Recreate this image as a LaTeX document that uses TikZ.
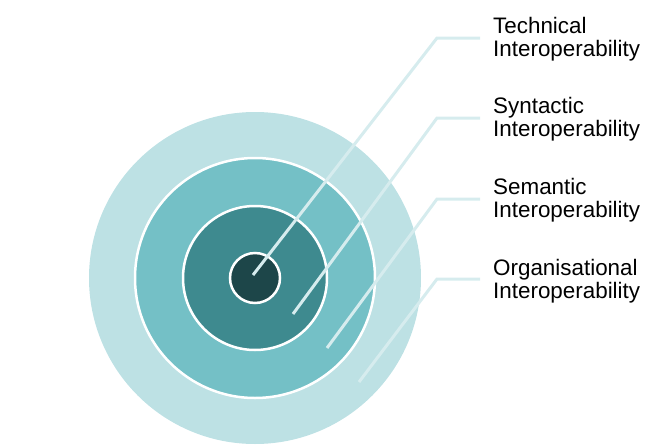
\documentclass[tikz,border=0pt]{standalone}
\usepackage{fontspec}
\setmainfont{Liberation Sans}
\definecolor{ringA}{HTML}{BDE1E4}
\definecolor{ringB}{HTML}{74C0C6}
\definecolor{ringC}{HTML}{3E8A8F}
\definecolor{ringD}{HTML}{1D4649}
\definecolor{leader}{HTML}{D6ECEE}
\tikzset{
  ring/.style={circle, inner sep=0pt, draw=white, line width=2.5pt},
  lbl/.style={anchor=north west, inner sep=0pt, align=left,
    font=\fontsize{22.4}{23}\selectfont, text=black},
  leadline/.style={draw=leader, line width=3pt}
}
\begin{document}
\begin{tikzpicture}[x=1pt, y=-1pt]
\useasboundingbox (0,0) rectangle (665,445);
\node[ring, draw=none, fill=ringA, minimum size=332pt] (c1) at (255,278) {};
\node[ring, fill=ringB, minimum size=240pt] (c2) at (255,278) {};
\node[ring, fill=ringC, minimum size=144pt] (c3) at (255,278) {};
\node[ring, fill=ringD, minimum size=50pt] (c4) at (255,278) {};

\node[lbl] (t1) at (493,17) {Technical\\Interoperability};
\node[lbl] (t2) at (493,97) {Syntactic\\Interoperability};
\node[lbl] (t3) at (493,178) {Semantic\\Interoperability};
\node[lbl] (t4) at (493,259) {Organisational\\Interoperability};

\coordinate (s1) at (253,275);
\coordinate (s2) at (293,314);
\coordinate (s3) at (327,348);
\coordinate (s4) at (359,382);
\coordinate (k1) at (437,38);
\coordinate (k2) at (437,118);
\coordinate (k3) at (437,199);
\coordinate (k4) at (437,279);
\draw[leadline] (s1) -- (k1) -- ([xshift=-13pt]t1.west |- k1);
\draw[leadline] (s2) -- (k2) -- ([xshift=-13pt]t2.west |- k2);
\draw[leadline] (s3) -- (k3) -- ([xshift=-13pt]t3.west |- k3);
\draw[leadline] (s4) -- (k4) -- ([xshift=-13pt]t4.west |- k4);
\end{tikzpicture}
\end{document}
